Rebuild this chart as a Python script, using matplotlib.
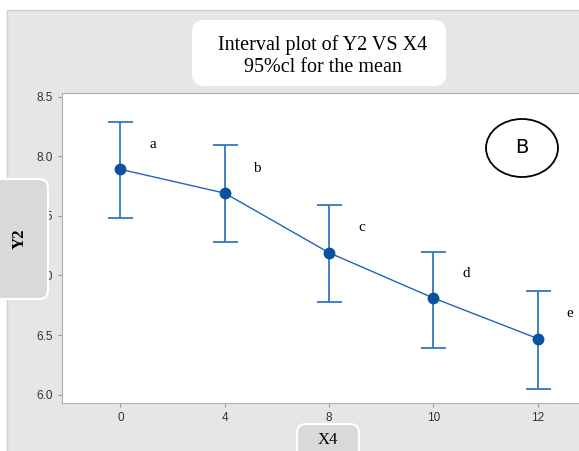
import matplotlib.pyplot as plt
from matplotlib.patches import FancyBboxPatch, Rectangle, Ellipse
from matplotlib.transforms import IdentityTransform

# data
x_labels = ["0", "4", "8", "10", "12"]
means = [7.89, 7.69, 7.19, 6.81, 6.47]
upper = [8.29, 8.09, 7.59, 7.20, 6.87]
lower = [7.48, 7.28, 6.78, 6.39, 6.05]
groups = ["a", "b", "c", "d", "e"]

W, H = 579, 451
fig = plt.figure(figsize=(W / 100, H / 100), dpi=100)
fig.patch.set_facecolor("white")

px = IdentityTransform()


def box(x0, y0, x1, y1, **kw):
    # pixel coords measured from top-left of the image
    return FancyBboxPatch((x0, H - y1), x1 - x0, y1 - y0, transform=px, **kw)


# grey panel behind everything
fig.patches.append(Rectangle((7, -5), W, H - 10 + 5, transform=px,
                             facecolor="#e6e6e6", edgecolor="#cfcfcf", lw=1, zorder=-5))

ax = fig.add_axes([62 / W, 1 - 403 / H, 1 - 62 / W + 0.01, (403 - 93) / H])
ax.set_facecolor("white")

pos = list(range(len(x_labels)))
yerr = [[m - l for m, l in zip(means, lower)], [u - m for m, u in zip(means, upper)]]
ax.errorbar(pos, means, yerr=yerr, fmt="none", ecolor="#3576c4", elinewidth=1.3,
            capsize=9, capthick=1.3, zorder=2)
ax.plot(pos, means, color="#1f65b8", lw=1.0, zorder=3)
ax.plot(pos, means, "o", color="#0a52a0", ms=7.5, zorder=4)

for p, m, g in zip(pos, means, groups):
    ax.text(p + 0.31, m + 0.21, g, family="Liberation Serif", fontsize=11,
            ha="center", va="center")

ax.set_xlim(-0.56, 4.45)
ax.set_ylim(5.93, 8.53)
ax.set_xticks(pos)
ax.set_xticklabels(x_labels)
ax.set_yticks([6.0, 6.5, 7.0, 7.5, 8.0, 8.5])
ax.tick_params(labelsize=8.5, colors="#9a9a9a", labelcolor="#333333", length=3, width=0.8)
for lab in ax.get_xticklabels() + ax.get_yticklabels():
    lab.set_family("Liberation Sans")
for s in ax.spines.values():
    s.set_color("#b0b0b0")
    s.set_linewidth(0.8)

# circled B (pixel centre ~ (522, 148))
bx = (522 - 62) / (W * (1 - 62 / W + 0.01))
by = (403 - 148) / (403 - 93)
ax.add_patch(Ellipse((bx, by), 72 / (W * (1 - 62 / W + 0.01)), 58 / (403 - 93),
                     transform=ax.transAxes, fill=False, ec="black", lw=1.3, zorder=5))
ax.text(bx, by, "B", transform=ax.transAxes, ha="center", va="center",
        family="DejaVu Sans", fontsize=14, zorder=6)

# title box
fig.patches.append(box(192, 20, 446, 86, boxstyle="round,pad=0,rounding_size=12",
                       facecolor="white", edgecolor="none", zorder=1))
fig.text(323 / W, 1 - 45 / H, "Interval plot of Y2 VS X4", ha="center", va="center",
         family="Liberation Serif", fontsize=14.5)
fig.text(323 / W, 1 - 67 / H, "95%cl for the mean", ha="center", va="center",
         family="Liberation Serif", fontsize=14.5)

# y label box
fig.patches.append(box(-15, 179, 48, 299, boxstyle="round,pad=0,rounding_size=9",
                       facecolor="#d9d9d9", edgecolor="white", lw=1.5, zorder=1))
fig.text(20 / W, 1 - 239 / H, "Y2", rotation=90, ha="center", va="center",
         family="Liberation Serif", fontsize=12, fontweight="bold")

# x label box
fig.patches.append(box(297, 424, 359, 470, boxstyle="round,pad=0,rounding_size=9",
                       facecolor="#d9d9d9", edgecolor="white", lw=1.5, zorder=1))
fig.text(328 / W, 1 - 440 / H, "X4", ha="center", va="center",
         family="Liberation Serif", fontsize=12)

fig.savefig("out.png", dpi=100)
